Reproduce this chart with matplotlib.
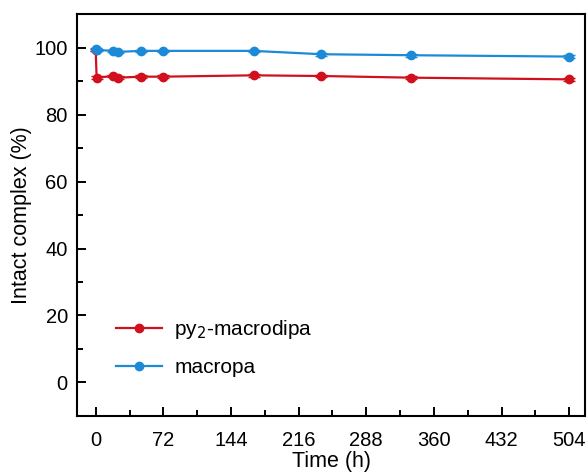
import matplotlib
matplotlib.use('Agg')
import matplotlib.pyplot as plt
from matplotlib.ticker import MultipleLocator

plt.rcParams['font.family'] = ['Liberation Sans', 'DejaVu Sans']

# time points (h) and % intact complex
t_py2 = [0, 1, 18, 24, 48, 72, 168, 240, 336, 504]
py2 = [99.3, 91.0, 91.5, 91.0, 91.3, 91.3, 91.7, 91.5, 91.0, 90.5]
py2_err = [0.4, 0.4, 0.4, 0.4, 0.4, 0.4, 0.4, 0.4, 0.4, 0.4]

t_mac = [0, 1, 18, 24, 48, 72, 168, 240, 336, 504]
mac = [99.5, 99.3, 99.0, 98.7, 99.0, 99.0, 99.0, 98.0, 97.7, 97.3]
mac_err = [0.4, 0.4, 0.4, 0.4, 0.4, 0.4, 0.4, 0.4, 0.4, 0.4]

xticks = [0, 72, 144, 216, 288, 360, 432, 504]
yticks = [0, 20, 40, 60, 80, 100]

red = '#d0101c'
blue = '#1d8ad7'

fig = plt.figure(figsize=(5.87, 4.74), dpi=100)
ax = fig.add_axes([0.131, 0.1224, 0.866, 0.848])

ax.errorbar(t_py2, py2, yerr=py2_err, color=red, marker='o', markersize=6,
            linewidth=1.6, capsize=4, elinewidth=1, label='py$_2$-macrodipa')
ax.errorbar(t_mac, mac, yerr=mac_err, color=blue, marker='o', markersize=6,
            linewidth=1.6, capsize=4, elinewidth=1, label='macropa')

ax.set_xlim(-20, 521)
ax.set_ylim(-10, 110)
ax.set_xticks(xticks)
ax.set_yticks(yticks)
ax.xaxis.set_minor_locator(MultipleLocator(36))
ax.yaxis.set_minor_locator(MultipleLocator(10))
ax.tick_params(which='major', direction='in', length=6.7, width=1.4, labelsize=14.5)
ax.tick_params(which='minor', direction='in', length=4, width=1.4)
ax.tick_params(axis='x', which='major', pad=10.5)
ax.tick_params(axis='y', which='major', pad=6.5)
for s in ax.spines.values():
    s.set_linewidth(1.5)

ax.set_xlabel('Time (h)', fontsize=15.5, labelpad=1)
ax.set_ylabel('Intact complex (%)', fontsize=15.5, labelpad=2)

handles, labels = ax.get_legend_handles_labels()
handles = [h[0] for h in handles]
ax.legend(handles, labels, loc='lower left', bbox_to_anchor=(0.04, 0.05),
          frameon=False, fontsize=15, handlelength=2.2, handletextpad=0.6,
          labelspacing=0.8)

fig.savefig('out.png', dpi=100)
